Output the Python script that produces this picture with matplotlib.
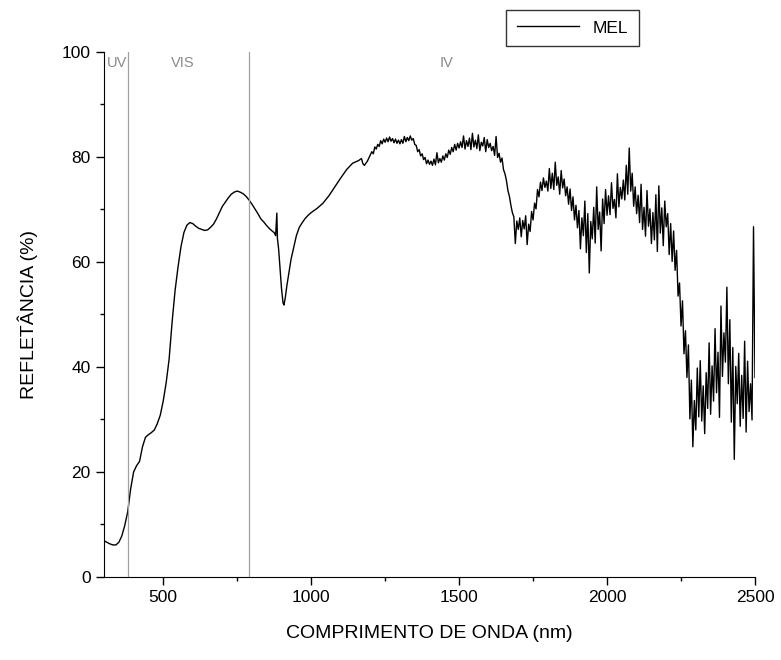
import numpy as np
import matplotlib
matplotlib.use('Agg')
import matplotlib.pyplot as plt
from matplotlib.ticker import MultipleLocator

plt.rcParams['font.family'] = ['Liberation Sans', 'DejaVu Sans']

# Parte suave do espectro (UV / VIS / início do IV)
wl_suave = [300, 310, 320, 330, 340, 350, 360, 370, 380, 390,
            400, 410, 420, 430, 440, 450, 460, 470, 480, 490,
            500, 510, 520, 530, 540, 550, 560, 570, 580, 590,
            600, 610, 620, 630, 640, 650, 660, 670, 680, 690,
            700, 710, 720, 730, 740, 750, 760, 770, 780, 790,
            800, 810, 820, 830, 840, 850, 860, 870, 875, 880,
            884, 886, 890, 895, 900, 905, 908, 912, 918, 925,
            932, 940, 950, 960, 970, 980, 990, 1000, 1020, 1040,
            1060, 1080, 1100, 1120, 1140, 1160, 1170, 1175, 1180, 1190,
            1200]
ref_suave = [6.9, 6.6, 6.3, 6.1, 6.1, 6.6, 7.8, 9.8, 12.4, 16.8,
             20.0, 21.2, 22.0, 24.8, 26.6, 27.1, 27.5, 28.0, 29.2, 30.8,
             33.5, 37.0, 41.5, 48.5, 54.5, 59.0, 62.9, 65.6, 67.0, 67.5,
             67.3, 66.8, 66.4, 66.2, 66.0, 66.1, 66.6, 67.2, 68.2, 69.4,
             70.6, 71.4, 72.2, 72.9, 73.3, 73.5, 73.3, 73.0, 72.5, 71.8,
             71.0, 70.1, 69.2, 68.2, 67.6, 66.9, 66.3, 65.8, 65.6, 65.0,
             69.3, 64.5, 62.5, 58.5, 54.8, 52.2, 51.8, 53.0, 55.5, 58.0,
             60.5, 62.5, 65.0, 66.6, 67.5, 68.3, 68.9, 69.4, 70.2, 71.2,
             72.6, 74.3, 76.0, 77.6, 78.8, 79.3, 79.7, 78.7, 78.4, 79.2,
             80.4]

# Parte ruidosa do IV (amostrada a cada 5 nm, 1205-2500 nm)
wl_ruido = np.arange(1205, 2501, 5)
ref_ruido = [
    81.0, 80.6, 81.9, 81.5, 82.4, 82.0, 83.1, 82.5, 83.4, 82.8,
    83.6, 82.9, 83.8, 83.0, 83.5, 82.7, 83.4, 82.6, 83.2, 82.5,
    83.3, 82.6, 83.9, 82.9, 83.7, 83.1, 84.0, 83.2, 83.5, 82.4,
    82.2, 81.0, 81.4, 80.2, 80.6, 79.5, 79.9, 78.7, 79.4, 78.6,
    79.2, 78.4, 79.6, 78.5, 80.8, 78.9, 79.7, 79.0, 80.2, 79.4,
    80.6, 79.9, 81.3, 80.5, 81.8, 81.0, 82.4, 81.3, 82.6, 81.7,
    82.9, 81.8, 84.0, 81.5, 83.1, 82.0, 83.6, 81.4, 84.5, 81.9,
    83.2, 81.6, 84.2, 81.2, 82.8, 82.1, 83.7, 81.0, 83.3, 81.8,
    82.6, 81.2, 82.0, 80.3, 83.9, 79.9, 80.7, 79.0, 79.8, 77.6,
    76.8, 75.5, 73.6, 72.5, 70.8, 69.4, 68.6, 63.5, 67.8, 66.2,
    68.4, 64.8, 67.9, 66.3, 68.8, 63.3, 67.2, 65.8, 69.6, 68.0,
    71.2, 70.1, 73.8, 72.4, 75.2, 73.6, 76.0, 74.2, 75.4, 73.5,
    77.8, 74.0, 76.9, 73.8, 79.0, 74.6, 76.2, 72.9, 77.4, 74.1,
    75.8, 72.6, 74.3, 71.0, 73.9, 69.8, 72.4, 68.0, 70.8, 66.5,
    69.8, 62.5, 68.4, 65.0, 71.6, 61.8, 69.2, 57.9, 67.7, 64.4,
    70.4, 63.6, 74.3, 66.2, 69.5, 62.1, 72.0, 67.3, 73.8, 68.9,
    72.6, 69.0, 75.1, 70.2, 71.9, 68.4, 76.8, 70.5, 74.2, 72.0,
    75.6, 71.8, 78.4, 72.9, 81.7, 73.5, 76.9, 70.6, 74.3, 69.2,
    72.7, 67.5, 74.8, 66.2, 70.4, 64.9, 73.6, 66.8, 70.1, 63.5,
    69.4, 64.2, 72.8, 62.0, 74.5, 65.5, 70.3, 63.1, 71.6, 66.7,
    69.2, 61.4, 67.3, 60.1, 65.9, 58.4, 62.2, 53.5, 56.0, 47.8,
    52.6, 42.5, 46.9, 38.0, 44.2, 30.1, 37.5, 24.8, 33.6, 28.0,
    39.8, 30.5, 41.2, 29.7, 36.4, 27.3, 38.9, 32.1, 44.6, 31.0,
    40.2, 33.5, 47.3, 35.1, 42.8, 30.4, 51.6, 38.2, 46.5, 40.9,
    55.2, 36.8, 49.0, 29.5, 43.7, 22.4, 40.1, 33.0, 42.6, 28.7,
    38.4, 30.2, 44.9, 27.6, 41.1, 31.5, 36.8, 29.9, 66.7, 38.0,
]

wl = np.concatenate([wl_suave, wl_ruido])
ref = np.concatenate([ref_suave, ref_ruido])

# Limites das regiões espectrais
limites = [380, 790]
regioes = ['UV', 'VIS', 'IV']
pos_regioes = [344, 567, 1459]

fig = plt.figure(figsize=(7.81, 6.60), dpi=100)
ax = fig.add_axes([0.1332, 0.1258, 0.8335, 0.7955])

ax.plot(wl, ref, color='black', lw=1.0, label='MEL')

for x in limites:
    ax.axvline(x, color='#a0a0a0', lw=0.9)
for nome, x in zip(regioes, pos_regioes):
    ax.text(x, 97.8, nome, color='#8a8a8a', fontsize=10.5, ha='center', va='center')

ax.set_xlim(300, 2500)
ax.set_ylim(0, 100)
ax.xaxis.set_major_locator(MultipleLocator(500))
ax.xaxis.set_minor_locator(MultipleLocator(250))
ax.yaxis.set_major_locator(MultipleLocator(20))
ax.yaxis.set_minor_locator(MultipleLocator(10))
ax.tick_params(which='major', direction='out', length=6, width=1, labelsize=12.5)
ax.tick_params(which='minor', direction='out', length=3, width=1)
ax.spines['top'].set_visible(False)
ax.spines['right'].set_visible(False)

ax.set_xlabel('COMPRIMENTO DE ONDA (nm)', fontsize=14, labelpad=14)
ax.set_ylabel('REFLETÂNCIA (%)', fontsize=14, labelpad=17)

leg = fig.legend(loc='upper left', bbox_to_anchor=(0.637, 0.998), fancybox=False,
                 edgecolor='black', fontsize=12.5, handlelength=3.6, borderpad=0.6)
leg.get_frame().set_linewidth(1.0)

fig.savefig('out.png', dpi=100)
